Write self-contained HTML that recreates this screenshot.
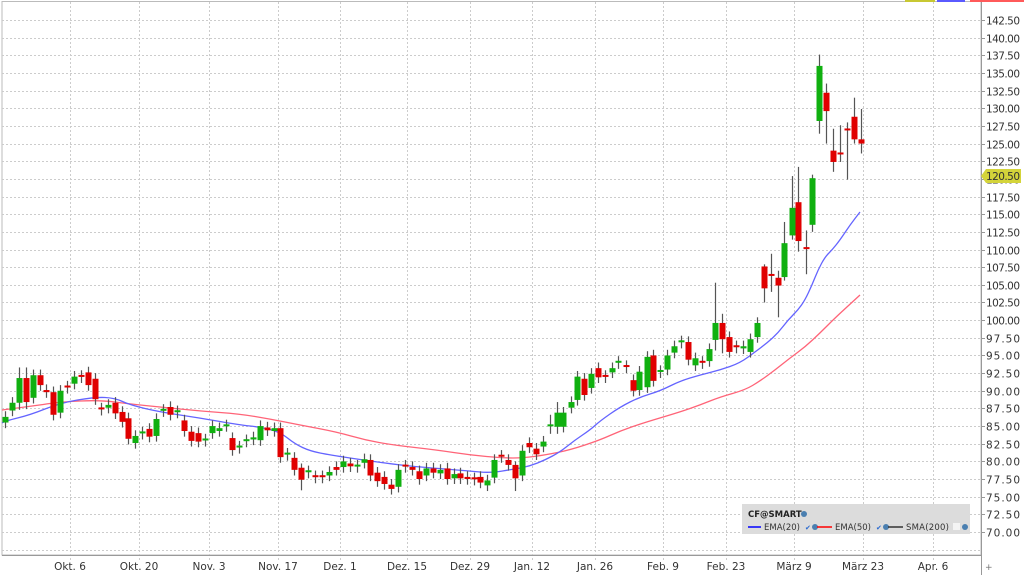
<!DOCTYPE html>
<html><head><meta charset="utf-8"><style>
html,body{margin:0;padding:0;background:#fff;}
svg{display:block;font-family:"DejaVu Sans","Liberation Sans",sans-serif;}
</style></head><body>
<svg id="c" width="1024" height="575" viewBox="0 0 1024 575" xmlns="http://www.w3.org/2000/svg">
<rect x="0" y="0" width="1024" height="575" fill="#fff"/>
<g id="grid"></g>
<g id="ema"></g>
<g id="candles"></g>
<g id="axis"></g>
<rect x="905" y="0" width="30" height="2" fill="#c8c832"/>
<rect x="937" y="0" width="28" height="2" fill="#5a5aff"/>
<rect x="970" y="0" width="54" height="2" fill="#ff5a5a"/>
<rect x="742" y="504" width="228" height="30" fill="#dcdcdc"/>
<text x="748" y="517" font-size="8.5" font-weight="bold" fill="#222">CF@SMART</text>
<circle cx="804" cy="514" r="3" fill="#4a7fb0"/>
<line x1="748" y1="527" x2="761" y2="527" stroke="#0000ff" stroke-width="1.5"/>
<text x="764" y="530" font-size="8.5" fill="#333" textLength="36">EMA(20)</text>
<text x="805" y="530" font-size="7" fill="#2a6ad0">✔</text>
<circle cx="815" cy="527" r="3" fill="#4a7fb0"/>
<line x1="817" y1="527" x2="832" y2="527" stroke="#ff0000" stroke-width="1.5"/>
<text x="835" y="530" font-size="8.5" fill="#333" textLength="36">EMA(50)</text>
<text x="876" y="530" font-size="7" fill="#2a6ad0">✔</text>
<circle cx="886" cy="527" r="3" fill="#4a7fb0"/>
<line x1="888" y1="527" x2="903" y2="527" stroke="#333" stroke-width="1.5"/>
<text x="906" y="530" font-size="8.5" fill="#333" textLength="43">SMA(200)</text>
<rect x="953" y="523" width="7" height="7" fill="#f4f4f4"/>
<circle cx="965" cy="527" r="3" fill="#4a7fb0"/>
</svg>
<script>
const NS="http://www.w3.org/2000/svg";
function el(p,t,a,txt){const e=document.createElementNS(NS,t);for(const k in a)e.setAttribute(k,a[k]);if(txt!==undefined)e.textContent=txt;document.getElementById(p).appendChild(e);return e;}
const Y=p=>20+(142.5-p)*7.062;
const AX=981;
el('grid','rect',{x:2,y:1.5,width:AX-2,height:555-1.5,fill:'none',stroke:'#bbb','stroke-width':1});
for(let p=142.5;p>=67.4;p-=2.5){const y=Math.round(Y(p))+0.5;el('grid','line',{x1:2,y1:y,x2:AX,y2:y,stroke:'#ccc','stroke-dasharray':'2,2'});
 if(p>=69.9){el('axis','line',{x1:AX,y1:y,x2:AX+4,y2:y,stroke:'#999'});el('axis','text',{x:986,y:y+4,'font-size':10.5,fill:'#333',textLength:34},p.toFixed(2));}}
const vx=[[70,'Okt. 6'],[139,'Okt. 20'],[209,'Nov. 3'],[278,'Nov. 17'],[340,'Dez. 1'],[407,'Dez. 15'],[470,'Dez. 29'],[532,'Jan. 12'],[595,'Jan. 26'],[663,'Feb. 9'],[726,'Feb. 23'],[794,'März 9'],[863,'März 23'],[933,'Apr. 6']];
vx.forEach(([x,t])=>{el('grid','line',{x1:x+.5,y1:2,x2:x+.5,y2:560,stroke:'#ccc','stroke-dasharray':'2,2'});el('axis','text',{x:x,y:570,'font-size':10.5,fill:'#333','text-anchor':'middle'},t);});
el('axis','line',{x1:2,y1:555.5,x2:AX,y2:555.5,stroke:'#999'});
el('axis','line',{x1:AX+.5,y1:2,x2:AX+.5,y2:575,stroke:'#999'});
el('axis','text',{x:985,y:570,'font-size':9,fill:'#777'},'+');
el('axis','path',{d:'M981 176 L986 169 L1021 169 L1021 183 L986 183 Z',fill:'#d4d43a'});
el('axis','text',{x:986,y:180,'font-size':10.5,fill:'#333',textLength:34},'120.50');
const C=[[5,85.5,86.3],[12,87.2,88.3],[19,88.3,91.8,1.5,1],[26,91.8,88.4,1.5,1],[33,89,92.2],[40,92.2,90.8],[46,90.1,89.8],[53,89.8,86.6],[60,86.9,90],[67,90.6,90.4],[74,91,92],[81,92.1,91.9],[88,92.6,90.8],[95,91.7,88.8],[101,87.5,87.3],[108,87.6,88],[115,88.3,86.8],[122,87,85.6],[128,86.1,83.2],[135,82.6,83.6],[142,83.9,84.1],[149,84.6,83.5],[156,83.6,86],[163,87.1,87.3],[170,87.7,86.6],[177,86.9,87.1],[184,85.8,84.3],[191,84.2,82.9],[198,84,82.8],[205,82.9,83.1],[212,84,85],[219,84.3,84.7],[226,85,85.1],[232,83.3,81.6],[239,81.9,82.1],[246,82.8,83],[253,83.1,83.4],[260,83,85],[267,84.8,84.4],[274,84.3,84.7],[280,84.7,80.6],[287,80.9,81.1],[294,80.5,78.8],[301,79.1,77.4,0.6,1.5],[308,78.4,78.6],[315,77.9,77.7],[322,77.9,77.7],[329,78,78.5],[336,79.2,78.8],[343,79.2,80],[350,79.7,79.3],[357,79.2,79.4],[364,79.8,80.3],[370,80.2,78],[377,78.4,77.2],[384,77.8,76.8],[391,76.7,76.1],[398,76.4,78.8],[405,79.4,79.2],[412,79.2,78.8],[419,78.6,77.5],[426,78,79],[433,79,78.4],[440,78.3,78.8],[447,79,77.5],[454,77.6,78.2],[460,78.3,77.6],[467,77.8,77.5],[474,77.6,77.4],[480,77.8,77],[487,76.6,77.3],[494,77.7,80.2],[501,80.8,80.6],[508,80.2,79.5],[515,79.5,77.6,0.5,1.8],[522,78,81.5],[529,82.6,82],[536,81.8,81],[543,82.1,82.8],[550,84.9,85.1,1.5,1],[557,84.9,86.9,1.5,1],[563,84.9,86.9],[571,87.6,88.4],[577,88.7,92],[584,91.7,89.4],[591,90.4,92.4],[598,93.2,91.9],[605,92.1,91.9],[612,92.6,93.2],[618,93.9,94.1],[626,93.5,93.3],[633,91.5,90],[639,90.1,92.7],[647,90.5,94.8],[653,95,91.4],[660,92.6,92.8],[667,93,95],[674,95.4,96.3],[681,96.8,97],[688,96.9,94.4],[695,93.6,94.6],[702,94.1,93.9],[709,94.2,95.9],[715,97.2,99.6,5.7,1.5],[722,99.6,97.3,1.3,2],[729,97.6,95.5],[736,96.3,96.1],[743,96,96.3],[750,95.5,97.3],[757,97.6,99.6],[764,107.6,104.5,0.3,2],[771,106.4,106.2,3,2.2],[778,106,104.9,1,4.5],[784,106.1,110.9,3,0.5],[792,112,115.9,4.5,0.6],[798,116.7,111.2,5,1.5],[806,110.2,110,2.5,3.5],[812,113.5,120.1,0.5,1],[819,128.2,136,1.6,1.8],[826,132.2,129.6,1.3,4.6],[833,124,122.4,3.1,1.4],[840,123.6,123.4,4,1],[847,127,126.9,1,7],[854,128.8,125.6,2.7,0.6],[861,125.6,125,4.3,1.4]];
C.forEach(([x,o,c,wu,wd])=>{wu=wu===undefined?0.8:wu;wd=wd===undefined?0.8:wd;
 const hi=Math.max(o,c)+wu,lo=Math.min(o,c)-wd;
 el('candles','line',{x1:x+.5,y1:Y(hi),x2:x+.5,y2:Y(lo),stroke:'#555','stroke-width':1.2});
 let y1=Y(Math.max(o,c)),h=Math.abs(Y(o)-Y(c));if(h<2){y1-=1;h=2;}
 el('candles','rect',{x:x-2.5,y:y1,width:6,height:h,fill:c>=o?'#10b010':'#e00000'});});
const blue=[[2,423],[5,421],[30,415],[60,403],[95,397],[115,398],[130,405],[160,412],[200,418],[240,425],[260,427],[280,432],[295,444],[310,451],[330,455],[370,461],[400,465],[420,467],[470,471],[490,473],[515,469],[530,466],[545,460],[560,452],[575,440],[590,430],[600,421],[620,407],[640,397],[660,391],[680,381],[700,375],[720,370],[740,363],[755,352],[767,343],[778,333],[788,320],[798,310],[805,300],[812,285],[818,270],[825,257],[832,250],[840,240],[850,225],[860,212]];
const red=[[2,410],[40,405],[60,402],[100,400],[130,404],[160,407],[200,411],[240,414],[270,419],[300,425],[337,432],[365,440],[393,445],[437,450],[470,455],[503,458],[523,458],[545,455],[570,450],[600,440],[620,431],[643,423],[680,412],[700,405],[720,397],[745,390],[760,381],[775,370],[790,358],[805,347],[820,333],[835,318],[848,306],[860,295]];
function smooth(pts){let d='M'+pts[0][0]+' '+pts[0][1];for(let i=1;i<pts.length-1;i++){const mx=(pts[i][0]+pts[i+1][0])/2,my=(pts[i][1]+pts[i+1][1])/2;d+=' Q'+pts[i][0]+' '+pts[i][1]+' '+mx+' '+my;}const l=pts[pts.length-1];d+=' L'+l[0]+' '+l[1];return d;}
el('ema','path',{d:smooth(red),fill:'none',stroke:'#ff6478','stroke-width':1.3});
el('ema','path',{d:smooth(blue),fill:'none',stroke:'#6464ff','stroke-width':1.3});
</script>
</body></html>
